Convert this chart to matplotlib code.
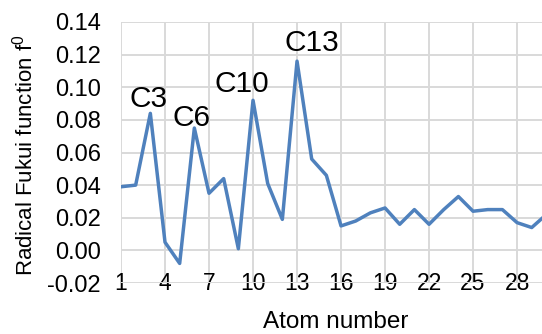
import matplotlib
matplotlib.use("Agg")
import matplotlib.pyplot as plt

atoms = list(range(1, 31))
fukui = [0.039, 0.040, 0.084, 0.005, -0.008, 0.075, 0.035, 0.044, 0.001, 0.092,
         0.041, 0.019, 0.116, 0.056, 0.046, 0.015, 0.018, 0.023, 0.026, 0.016,
         0.025, 0.016, 0.025, 0.033, 0.024, 0.025, 0.025, 0.017, 0.014, 0.022]
peak_labels = ["C3", "C6", "C10", "C13"]
peak_atoms = [3, 6, 10, 13]
xticks = [1, 4, 7, 10, 13, 16, 19, 22, 25, 28]
yticks = [-0.02, 0.00, 0.02, 0.04, 0.06, 0.08, 0.10, 0.12, 0.14]

plt.rcParams["font.family"] = ["Liberation Sans", "DejaVu Sans"]

fig = plt.figure(figsize=(5.42, 3.34), dpi=100)
ax = fig.add_axes([121 / 542, 51 / 334, 421 / 542, 261 / 334])

ax.plot(atoms, fukui, color="#4f81bd", lw=2.5)

# label sits just above (or beside) each peak, baseline offsets in data units
offsets = {"C3": (-0.09, 0.004), "C6": (-0.16, 0.001), "C10": (-0.75, 0.005), "C13": (1.0, 0.006)}
for lab, a in zip(peak_labels, peak_atoms):
    dx, dy = offsets[lab]
    ax.text(a + dx, fukui[a - 1] + dy, lab, fontsize=21.5, ha="center", va="baseline")

ax.set_xlim(1, 29.7)
ax.set_ylim(-0.02, 0.14)
ax.set_xticks(xticks)
ax.set_yticks(yticks)
ax.set_yticklabels([f"{v:.2f}" for v in yticks])
ax.tick_params(axis="y", length=0, labelsize=17, pad=14.5)
ax.tick_params(axis="x", length=0, labelsize=16.5, pad=-8)
ax.grid(True, color="#d9d9d9", lw=1.4)
ax.set_axisbelow(True)
for s in ax.spines.values():
    s.set_visible(False)

fig.text(336 / 542, 6 / 334, "Atom number", fontsize=17.5, ha="center", va="baseline")
fig.text(33 / 542, 1 - 155 / 334, r"Radical Fukui function f$^\mathregular{0}$", fontsize=16,
         rotation=90, rotation_mode="anchor", ha="center", va="baseline")

fig.savefig("out.png", dpi=100)
